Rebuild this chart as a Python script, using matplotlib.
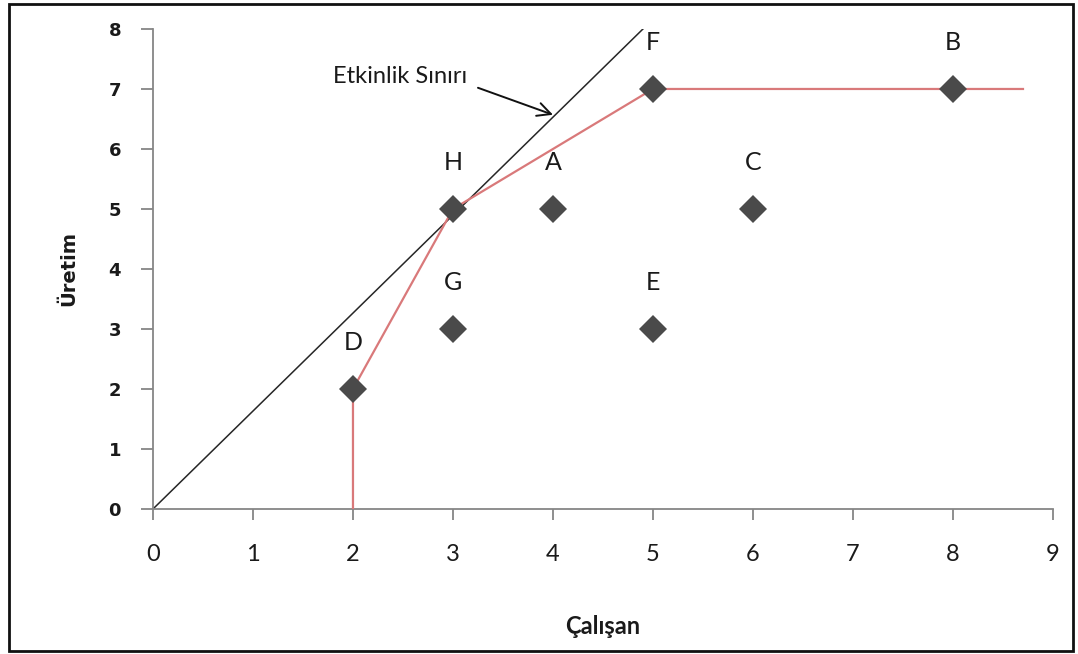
import matplotlib
matplotlib.use("Agg")
import matplotlib.pyplot as plt
import matplotlib.patheffects as pe
from matplotlib.patches import Rectangle

# Firms: employees (Çalışan) vs. output (Üretim)
firms = ["A", "B", "C", "D", "E", "F", "G", "H"]
calisan = [4, 8, 6, 2, 5, 5, 3, 3]
uretim = [5, 7, 5, 2, 3, 7, 3, 5]

# Efficiency frontier (envelope through D, H, F, B)
frontier_x = [2, 2, 3, 5, 8.7]
frontier_y = [0, 2, 5, 7, 7]

# Constant-returns reference ray from the origin
ray_x = [0, 4.9]
ray_y = [0, 8]

x_ticks = list(range(0, 10))
y_ticks = list(range(0, 9))

fig = plt.figure(figsize=(10.78, 6.54), dpi=100)
ax = fig.add_axes([0.1419, 0.2217, 0.8349, 0.734])

axis_grey = "#868686"

ax.plot(ray_x, ray_y, color="#262626", lw=1.1, zorder=2)
ax.plot(frontier_x, frontier_y, color="#d9797a", lw=1.6, zorder=3)

shadow = [pe.SimpleLineShadow(offset=(2, -2), shadow_color="#9a9a9a", alpha=0.6),
          pe.Normal()]
ax.plot(calisan, uretim, linestyle="none", marker="D", markersize=14,
        color="#4a4a4a", markeredgewidth=0, zorder=4, path_effects=shadow)

for name, x, y in zip(firms, calisan, uretim):
    ax.text(x, y + 0.77, name, ha="center", va="center", fontsize=18,
            family="Lato", color="#1a1a1a", zorder=5)

ax.text(3.14, 7.2, "Etkinlik Sınırı", ha="right", va="center", fontsize=17,
        family="Lato", color="#1a1a1a")
ax.annotate("", xy=(4.0, 6.57), xytext=(3.25, 7.02),
            arrowprops=dict(arrowstyle="->", color="#111111", lw=1.4,
                            mutation_scale=24, shrinkA=0, shrinkB=0))

ax.set_xlim(0, 9)
ax.set_ylim(0, 8)
ax.set_xticks(x_ticks)
ax.set_yticks(y_ticks)
ax.set_xticklabels([str(v) for v in x_ticks], family="Lato", fontsize=17)
ax.set_yticklabels([str(v) for v in y_ticks], family="DejaVu Sans",
                   fontsize=13, fontweight="bold")

for side in ("top", "right"):
    ax.spines[side].set_visible(False)
for side in ("left", "bottom"):
    ax.spines[side].set_color(axis_grey)
    ax.spines[side].set_linewidth(1.3)

ax.tick_params(axis="both", direction="out", color=axis_grey, width=1.3,
               labelcolor="#1a1a1a")
ax.tick_params(axis="y", length=9, pad=14)
ax.tick_params(axis="x", length=8, pad=17)

ax.set_xlabel("Çalışan", family="Lato", fontsize=17, fontweight="bold",
              labelpad=36, color="#1a1a1a")
ax.set_ylabel("Üretim", family="DejaVu Sans", fontsize=14, fontweight="bold",
              labelpad=22, color="#1a1a1a")

# Outer chart frame
fig.patches.append(Rectangle((0.008, 0.004), 0.987, 0.99, transform=fig.transFigure,
                             fill=False, edgecolor="#111111", lw=2.0))

fig.savefig("out.png", dpi=100)
